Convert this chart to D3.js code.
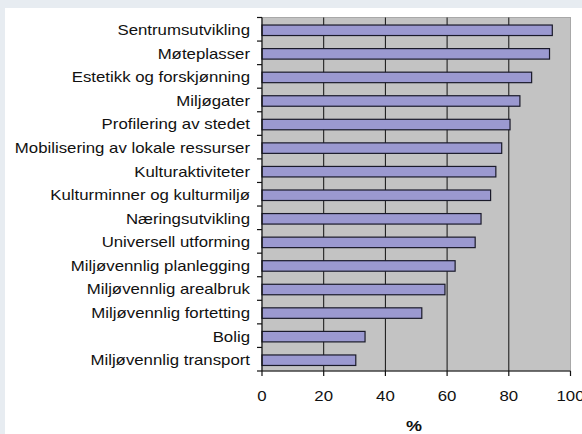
<!DOCTYPE html>
<html>
<head>
<meta charset="utf-8">
<script src="https://cdn.jsdelivr.net/npm/d3@7"></script>
<style>
  html, body { margin: 0; padding: 0; background: #fff; }
  svg { display: block; font-family: "Liberation Sans", Arial, sans-serif; }
</style>
</head>
<body>
<svg id="chart" width="582" height="434"></svg>
<script>
'use strict';
const categories = [
  'Sentrumsutvikling', 'Møteplasser', 'Estetikk og forskjønning', 'Miljøgater',
  'Profilering av stedet', 'Mobilisering av lokale ressurser', 'Kulturaktiviteter',
  'Kulturminner og kulturmiljø', 'Næringsutvikling', 'Universell utforming',
  'Miljøvennlig planlegging', 'Miljøvennlig arealbruk', 'Miljøvennlig fortetting',
  'Bolig', 'Miljøvennlig transport'
];
const values = [94.1, 93.2, 87.4, 83.6, 80.4, 77.7, 75.8, 74.1, 71.0, 69.1, 62.6, 59.3, 51.8, 33.4, 30.4];
const xTicks = [0, 20, 40, 60, 80, 100];

const svg = d3.select('#chart');
const W = 582, H = 434;
const m = { left: 262, right: 570.5, top: 17.5, bottom: 371 };
const SX = 1.2; // text in the source is rendered a bit wide

// frame strips (top + left)
svg.append('rect').attr('width', W).attr('height', 8).attr('fill', '#e7ecf1');
svg.append('rect').attr('width', 5).attr('height', H).attr('fill', '#e7ecf1');

const x = d3.scaleLinear().domain([0, 100]).range([m.left, m.right]);
const y = d3.scaleBand().domain(categories).range([m.top, m.bottom]);

// plot background
svg.append('rect')
  .attr('x', m.left).attr('y', m.top)
  .attr('width', m.right - m.left).attr('height', m.bottom - m.top)
  .attr('fill', '#c3c3c3').attr('stroke', '#a8a8a8').attr('stroke-width', 1);

// gridlines
svg.append('g').selectAll('line').data(xTicks.slice(1, -1)).join('line')
  .attr('x1', d => x(d)).attr('x2', d => x(d))
  .attr('y1', m.top).attr('y2', m.bottom)
  .attr('stroke', '#111').attr('stroke-width', 1);

// bars
const bh = 10.5;
svg.append('g').selectAll('rect').data(values).join('rect')
  .attr('x', x(0))
  .attr('y', (d, i) => y(categories[i]) + y.bandwidth() / 2 - bh / 2 + 1)
  .attr('width', d => x(d) - x(0))
  .attr('height', bh)
  .attr('fill', '#9b99d0').attr('stroke', '#1a1a2a').attr('stroke-width', 1.2);

// y axis
const yAxis = svg.append('g').attr('transform', `translate(${m.left},0)`);
yAxis.append('line').attr('x1', 0).attr('x2', 0).attr('y1', m.top).attr('y2', m.bottom)
  .attr('stroke', '#111').attr('stroke-width', 1.2);
yAxis.selectAll('line.tk').data(d3.range(categories.length + 1)).join('line')
  .attr('class', 'tk')
  .attr('x1', -5).attr('x2', 0)
  .attr('y1', i => m.top + i * y.step()).attr('y2', i => m.top + i * y.step())
  .attr('stroke', '#111').attr('stroke-width', 1.2);
yAxis.selectAll('text').data(categories).join('text')
  .attr('transform', d => `translate(-12,${y(d) + y.bandwidth() / 2 + 1}) scale(${SX},1)`)
  .attr('dy', '0.35em').attr('text-anchor', 'end')
  .attr('font-size', 14).attr('fill', '#111')
  .text(d => d);

// x axis
const xAxis = svg.append('g');
xAxis.append('line').attr('x1', m.left).attr('x2', m.right).attr('y1', m.bottom).attr('y2', m.bottom)
  .attr('stroke', '#111').attr('stroke-width', 1.2);
xAxis.selectAll('line.tk').data(xTicks).join('line')
  .attr('class', 'tk')
  .attr('x1', d => x(d)).attr('x2', d => x(d))
  .attr('y1', m.bottom).attr('y2', m.bottom + 5)
  .attr('stroke', '#111').attr('stroke-width', 1.2);
xAxis.selectAll('text').data(xTicks).join('text')
  .attr('transform', d => `translate(${x(d)},401) scale(${SX},1)`)
  .attr('text-anchor', 'middle').attr('font-size', 14).attr('fill', '#111')
  .text(d => d);
svg.append('text')
  .attr('transform', `translate(414,431) scale(${SX},1)`)
  .attr('text-anchor', 'middle').attr('font-size', 15).attr('font-weight', 'bold').attr('fill', '#111')
  .text('%');
</script>
</body>
</html>
